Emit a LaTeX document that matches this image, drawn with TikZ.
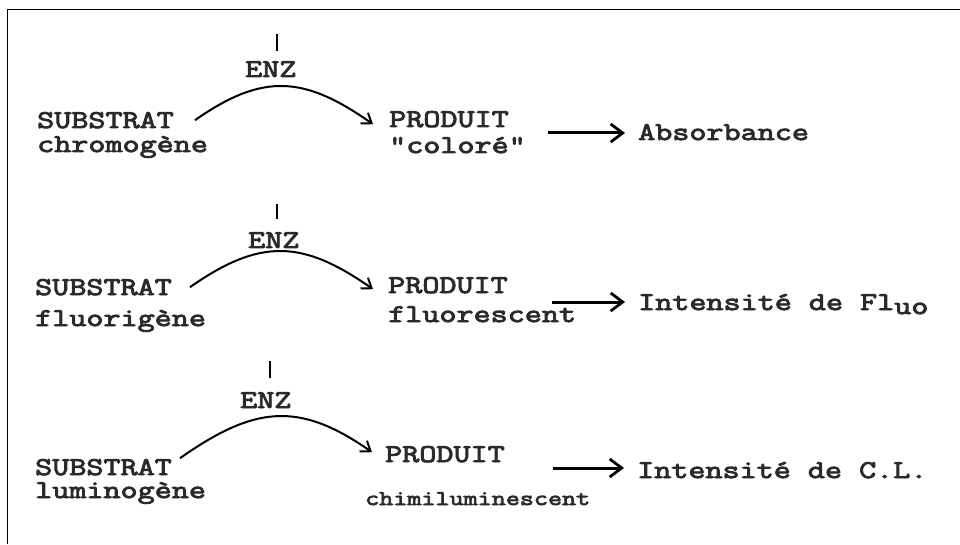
\documentclass[tikz,border=0pt]{standalone}
\usepackage{fontspec}
% typewriter face: widened and thickened Latin Modern Mono
\newfontfamily\typew[FakeStretch=1.3,FakeBold=3.5]{Latin Modern Mono}
\usetikzlibrary{arrows.meta}
\definecolor{ink}{HTML}{2a2a2a}
\begin{document}
\begin{tikzpicture}[x=1pt,y=1pt,
  lbl/.style={inner sep=0pt, anchor=base west, text=ink,
    font=\fontsize{25.5}{25.5}\selectfont\typew},
  smalllbl/.style={lbl, font=\fontsize{21}{21}\selectfont\typew},
  react/.style={line width=2pt, out=35, in=145, looseness=1.2,
    -{Straight Barb[length=9pt,width=13pt,line width=2pt]}},
  flow/.style={line width=3pt, shorten >=13pt,
    -{Straight Barb[length=12pt,width=18pt,line width=2.8pt]}},
  enztick/.style={line width=2pt},
  frameline/.style={line width=1.8pt}]
\useasboundingbox (0,0) rectangle (960,544);
\fill[white] (0,0) rectangle (960,544);
\draw[frameline] (7.5,0) -- (7.5,534.5) -- (960,534.5);

% chromogenic substrate -> coloured product
\node[lbl] (enz1)   at (245,467) {ENZ};
\node[lbl] (sub1)   at (37,416)  {SUBSTRAT};
\node[lbl] (sub1b)  at (37,392)  {chromogène};
\node[lbl] (prod1)  at (389,417) {PRODUIT};
\node[lbl] (prod1b) at (389,391) {"coloré"};
\node[lbl] (res1)   at (638,404) {Absorbance};
\coordinate (f1) at (548,411);
\draw[enztick] ([xshift=6pt,yshift=10pt]enz1.north) -- ++(0,17);
\draw[react] ([xshift=21pt]sub1.east) to ([xshift=-16pt,yshift=-5pt]prod1.west);
\draw[flow] (f1) -- (f1 -| res1.west);

% fluorigenic substrate -> fluorescent product
\node[lbl] (enz2)   at (248,296) {ENZ};
\node[lbl] (sub2)   at (35,249)  {SUBSTRAT};
\node[lbl] (sub2b)  at (35,218)  {fluorigène};
\node[lbl] (prod2)  at (388,251) {PRODUIT};
\node[lbl] (prod2b) at (388,222) {fluorescent};
\node[lbl] (res2)   at (638,234) {Intensité de Fl\raisebox{-4pt}{uo}};
\coordinate (f2) at (552,242);
\draw[enztick] ([xshift=3pt,yshift=13pt]enz2.north) -- ++(0,15);
\draw[react] ([xshift=18pt]sub2.east) to ([xshift=-15pt,yshift=-4pt]prod2.west);
\draw[flow] (f2) -- (f2 -| res2.west);

% luminogenic substrate -> chemiluminescent product
\node[lbl] (enz3)   at (240,136) {ENZ};
\node[lbl] (sub3)   at (35,69)   {SUBSTRAT};
\node[lbl] (sub3b)  at (35,46)   {luminogène};
\node[lbl] (prod3)  at (385,82)  {PRODUIT};
\node[smalllbl] (prod3b) at (365,39) {chimiluminescent};
\node[lbl] (res3)   at (637,66)  {Intensité de C.L.};
\coordinate (f3) at (553,76);
\draw[enztick] ([xshift=4pt,yshift=14pt]enz3.north) -- ++(0,17);
\draw[react] ([xshift=8pt,yshift=9pt]sub3.east) to ([xshift=-13pt,yshift=2pt]prod3.west);
\draw[flow] (f3) -- (f3 -| res3.west);
\end{tikzpicture}
\end{document}
